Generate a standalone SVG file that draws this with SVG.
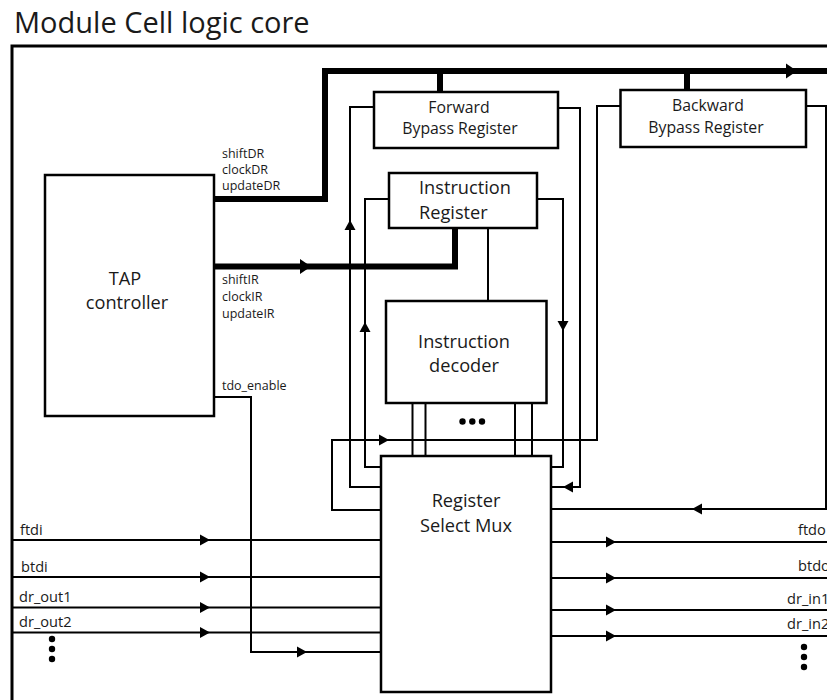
<svg xmlns="http://www.w3.org/2000/svg" xmlns:xlink="http://www.w3.org/1999/xlink" width="827" height="700" viewBox="0 0 827 700">
<style>
.box{fill:#fff;stroke:#000;stroke-width:2.5}
.w{fill:none;stroke:#000;stroke-width:2}
.bus{fill:none;stroke:#000;stroke-width:6}
.frame{fill:none;stroke:#000;stroke-width:3}
text{font-family:"Open Sans","Liberation Sans",sans-serif;fill:#1a1a1a}
.t{font-size:15.8px;text-anchor:middle}
.tb{font-size:18.2px;text-anchor:middle}
.s{font-size:12.5px}
.io{font-size:14.6px}
.title{font-size:29px}
</style>
<defs>
<path id="a" d="M0,0 L-10,-5.5 L-10,5.5 Z" fill="#000"/>
<path id="A" d="M0,0 L-11,-7.5 L-11,7.5 Z" fill="#000"/>
<circle id="d" r="3.2" fill="#000"/>
</defs>
<rect width="827" height="700" fill="#fff"/>
<text class="title" x="14" y="33">Module Cell logic core</text>
<path class="frame" d="M12,700 V46 H827"/>
<g id="connectors">
<path class="bus" d="M214,199 H325 V71 H827"/>
<path class="bus" d="M440,71 V92 M687,71 V90"/>
<path class="bus" d="M214,266.5 H455 V228"/>
<path class="w" d="M381,487 H350 V107 H374"/>
<path class="w" d="M381,467 H365 V199 H389"/>
<path class="w" d="M381,510 H332 V440 H597 V106 H620"/>
<path class="w" d="M806,106 H826 V509 H551"/>
<path class="w" d="M558,108 H580 V487 H551"/>
<path class="w" d="M537,199 H563 V467 H551"/>
<path class="w" d="M488,228 V301"/>
<path class="w" d="M412.5,403 V456 M425.5,403 V456 M515,403 V456 M532,403 V456"/>
<path class="w" d="M214,397 H251 V652 H381"/>
<path class="w" d="M12,540 H381 M12,577 H381 M12,607.5 H381 M12,632.5 H381"/>
<path class="w" d="M551,542 H827 M551,578 H827 M551,610 H827 M551,636 H827"/>
<use xlink:href="#A" transform="translate(797,71)"/>
<use xlink:href="#A" transform="translate(311,266.5)"/>
<use xlink:href="#a" transform="translate(350,220) rotate(-90)"/>
<use xlink:href="#a" transform="translate(365,322) rotate(-90)"/>
<use xlink:href="#a" transform="translate(563,331) rotate(90)"/>
<use xlink:href="#a" transform="translate(563,487) rotate(180)"/>
<use xlink:href="#a" transform="translate(692,509) rotate(180)"/>
<use xlink:href="#a" transform="translate(389,440)"/>
<use xlink:href="#a" transform="translate(210,540)"/>
<use xlink:href="#a" transform="translate(210,577)"/>
<use xlink:href="#a" transform="translate(210,607.5)"/>
<use xlink:href="#a" transform="translate(210,632.5)"/>
<use xlink:href="#a" transform="translate(307,652)"/>
<use xlink:href="#a" transform="translate(616,542)"/>
<use xlink:href="#a" transform="translate(616,578)"/>
<use xlink:href="#a" transform="translate(616,610)"/>
<use xlink:href="#a" transform="translate(616,636)"/>
<use xlink:href="#d" x="462.5" y="421.5"/>
<use xlink:href="#d" x="472.3" y="421.5"/>
<use xlink:href="#d" x="482" y="421.5"/>
</g>
<g id="tap">
<rect class="box" x="45" y="175" width="169" height="241"/>
<text class="tb" x="125" y="285">TAP</text>
<text class="tb" x="127" y="309">controller</text>
<text class="s" x="222" y="158">shiftDR</text>
<text class="s" x="222" y="174">clockDR</text>
<text class="s" x="222" y="190">updateDR</text>
<text class="s" x="222" y="284">shiftIR</text>
<text class="s" x="222" y="301">clockIR</text>
<text class="s" x="222" y="318">updateIR</text>
<text class="s" x="222" y="390">tdo_enable</text>
</g>
<g id="fbr">
<rect class="box" x="374" y="92" width="184" height="56"/>
<text class="t" x="459" y="113">Forward</text>
<text class="t" x="460" y="134">Bypass Register</text>
</g>
<g id="bbr">
<rect class="box" x="620.5" y="90" width="185.5" height="57"/>
<text class="t" x="708" y="111">Backward</text>
<text class="t" x="706" y="133">Bypass Register</text>
</g>
<g id="ir">
<rect class="box" x="389" y="173" width="148" height="55"/>
<text class="tb" x="419" y="194" style="text-anchor:start">Instruction</text>
<text class="tb" x="419" y="219" style="text-anchor:start">Register</text>
</g>
<g id="decoder">
<rect class="box" x="386" y="301" width="160.5" height="102"/>
<text class="tb" x="464" y="348">Instruction</text>
<text class="tb" x="464" y="372">decoder</text>
</g>
<g id="mux">
<rect class="box" x="381" y="456" width="170" height="236"/>
<text class="tb" x="466" y="507">Register</text>
<text class="tb" x="466" y="532">Select Mux</text>
</g>
<g id="io-left">
<text class="io" x="20" y="535">ftdi</text>
<text class="io" x="21" y="572">btdi</text>
<text class="io" x="19" y="602">dr_out1</text>
<text class="io" x="19" y="627">dr_out2</text>
<use xlink:href="#d" x="52" y="639"/>
<use xlink:href="#d" x="52" y="649"/>
<use xlink:href="#d" x="52" y="659"/>
</g>
<g id="io-right">
<text class="io" x="798" y="535">ftdo</text>
<text class="io" x="798" y="571">btdo</text>
<text class="io" x="787" y="604">dr_in1</text>
<text class="io" x="787" y="629">dr_in2</text>
<use xlink:href="#d" x="804" y="647"/>
<use xlink:href="#d" x="804" y="657"/>
<use xlink:href="#d" x="804" y="667"/>
</g>
</svg>
